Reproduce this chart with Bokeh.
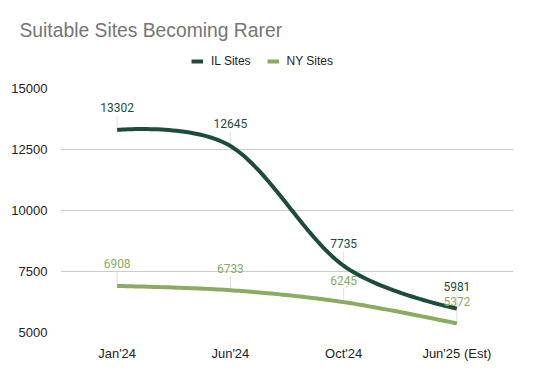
import numpy as np
from bokeh.plotting import figure
from bokeh.layouts import column
from bokeh.models import Range1d, FixedTicker, Legend, LegendItem, ColumnDataSource
from bokeh.core.properties import value
from bokeh.embed import file_html
from bokeh.resources import INLINE

categories = ["Jan'24", "Jun'24", "Oct'24", "Jun'25 (Est)"]
il_sites = [13302, 12645, 7735, 5981]
ny_sites = [6908, 6733, 6245, 5372]
y_ticks = [5000, 7500, 10000, 12500, 15000]

IL_COLOR = "#1d4d3a"
NY_COLOR = "#8bab62"
FONT = "Roboto"
UI_FONT = "Liberation Sans"

xs = np.arange(len(categories)) + 0.5


def smooth(x, y, n=40):
    x = np.asarray(x, float)
    y = np.asarray(y, float)
    px, py = [], []
    m = len(x)
    for i in range(m - 1):
        x0, y0, x1, y1 = x[i], y[i], x[i + 1], y[i + 1]
        if i == 0:
            c0x, c0y = x0, y0
        else:
            c0x = x0 + (x1 - x[i - 1]) / 6
            c0y = y0 + (y1 - y[i - 1]) / 6
        if i + 2 >= m:
            c1x, c1y = x1, y1
        else:
            c1x = x1 - (x[i + 2] - x0) / 6
            c1y = y1 - (y[i + 2] - y0) / 6
        t = np.linspace(0, 1, n)
        bx = (1 - t) ** 3 * x0 + 3 * (1 - t) ** 2 * t * c0x + 3 * (1 - t) * t ** 2 * c1x + t ** 3 * x1
        by = (1 - t) ** 3 * y0 + 3 * (1 - t) ** 2 * t * c0y + 3 * (1 - t) * t ** 2 * c1y + t ** 3 * y1
        if i > 0:
            bx, by = bx[1:], by[1:]
        px.extend(bx)
        py.extend(by)
    return px, py


W = 533
HEAD_H = 80
MAIN_H = 291
LEFT, RIGHT = 60, 20

# ---------- header: title + legend ----------
hp = figure(width=W, height=HEAD_H, output_backend="svg", toolbar_location=None,
            x_range=Range1d(0, 1), y_range=Range1d(0, 1),
            x_axis_location=None, y_axis_location=None,
            min_border_left=LEFT, min_border_right=RIGHT, min_border_top=40, min_border_bottom=0)
hp.outline_line_color = None
hp.grid.grid_line_color = None
hp.background_fill_color = "white"
hp.border_fill_color = "white"

h_il = hp.line(x=[np.nan], y=[np.nan], line_color=IL_COLOR, line_width=4)
h_ny = hp.line(x=[np.nan], y=[np.nan], line_color=NY_COLOR, line_width=4)

hp.title.text = "Suitable Sites Becoming Rarer"
hp.title.text_font = UI_FONT
hp.title.text_font_size = "19.3px"
hp.title.text_font_style = "normal"
hp.title.text_color = "#757575"
hp.title.align = "left"
hp.title.offset = 19 - LEFT
hp.title.standoff = 0

legend = Legend(items=[LegendItem(label="IL Sites", renderers=[h_il]),
                       LegendItem(label="NY Sites", renderers=[h_ny])],
                orientation="horizontal", location=(191 - LEFT, 12),
                label_text_font=UI_FONT, label_text_font_size="12px", label_text_color="#222222",
                glyph_width=12, glyph_height=12, label_height=12, label_standoff=8, spacing=16,
                border_line_color=None, background_fill_alpha=0, padding=0, margin=0)
hp.add_layout(legend, "center")

# ---------- main chart ----------
p = figure(width=W, height=MAIN_H, output_backend="svg", toolbar_location=None,
           x_range=Range1d(0, len(categories)), y_range=Range1d(5000, 15000),
           min_border_left=LEFT, min_border_right=RIGHT, min_border_bottom=39, min_border_top=8)
p.outline_line_color = None
p.background_fill_color = "white"
p.border_fill_color = "white"

frame_h = MAIN_H - 39 - 8
units_per_px = (15000 - 5000) / frame_h
lead = 14 * units_per_px

# leader lines
for vals in (il_sites, ny_sites):
    p.segment(x0=xs, y0=vals, x1=xs, y1=[v + lead for v in vals], line_color="#e0e0e0", line_width=1)

ix, iy = smooth(xs, il_sites)
nx, ny = smooth(xs, ny_sites)
p.line(nx, ny, line_color=NY_COLOR, line_width=4)
p.line(ix, iy, line_color=IL_COLOR, line_width=4)

for vals, col in ((il_sites, IL_COLOR), (ny_sites, NY_COLOR)):
    src = ColumnDataSource(dict(x=xs, y=vals, t=[str(v) for v in vals]))
    p.text(x="x", y="y", text="t", source=src, text_align="center", text_baseline="middle",
           y_offset=-22, text_font=value(FONT), text_font_size="12px", text_color=col)

# axes
p.xaxis.ticker = FixedTicker(ticks=list(xs))
p.xaxis.major_label_overrides = {float(x): c for x, c in zip(xs, categories)}
p.yaxis.ticker = FixedTicker(ticks=y_ticks)
for ax in (p.xaxis[0], p.yaxis[0]):
    ax.axis_line_color = None
    ax.major_tick_line_color = None
    ax.minor_tick_line_color = None
    ax.major_label_text_font = UI_FONT
    ax.major_label_text_font_size = "13px"
    ax.major_label_text_color = "#222222"
    ax.major_label_standoff = 7
p.xgrid.grid_line_color = None
p.ygrid.grid_line_color = "#cccccc"
p.ygrid.ticker = FixedTicker(ticks=y_ticks)

layout = column(hp, p, spacing=0)
open("out.html", "w").write(file_html(layout, INLINE))
